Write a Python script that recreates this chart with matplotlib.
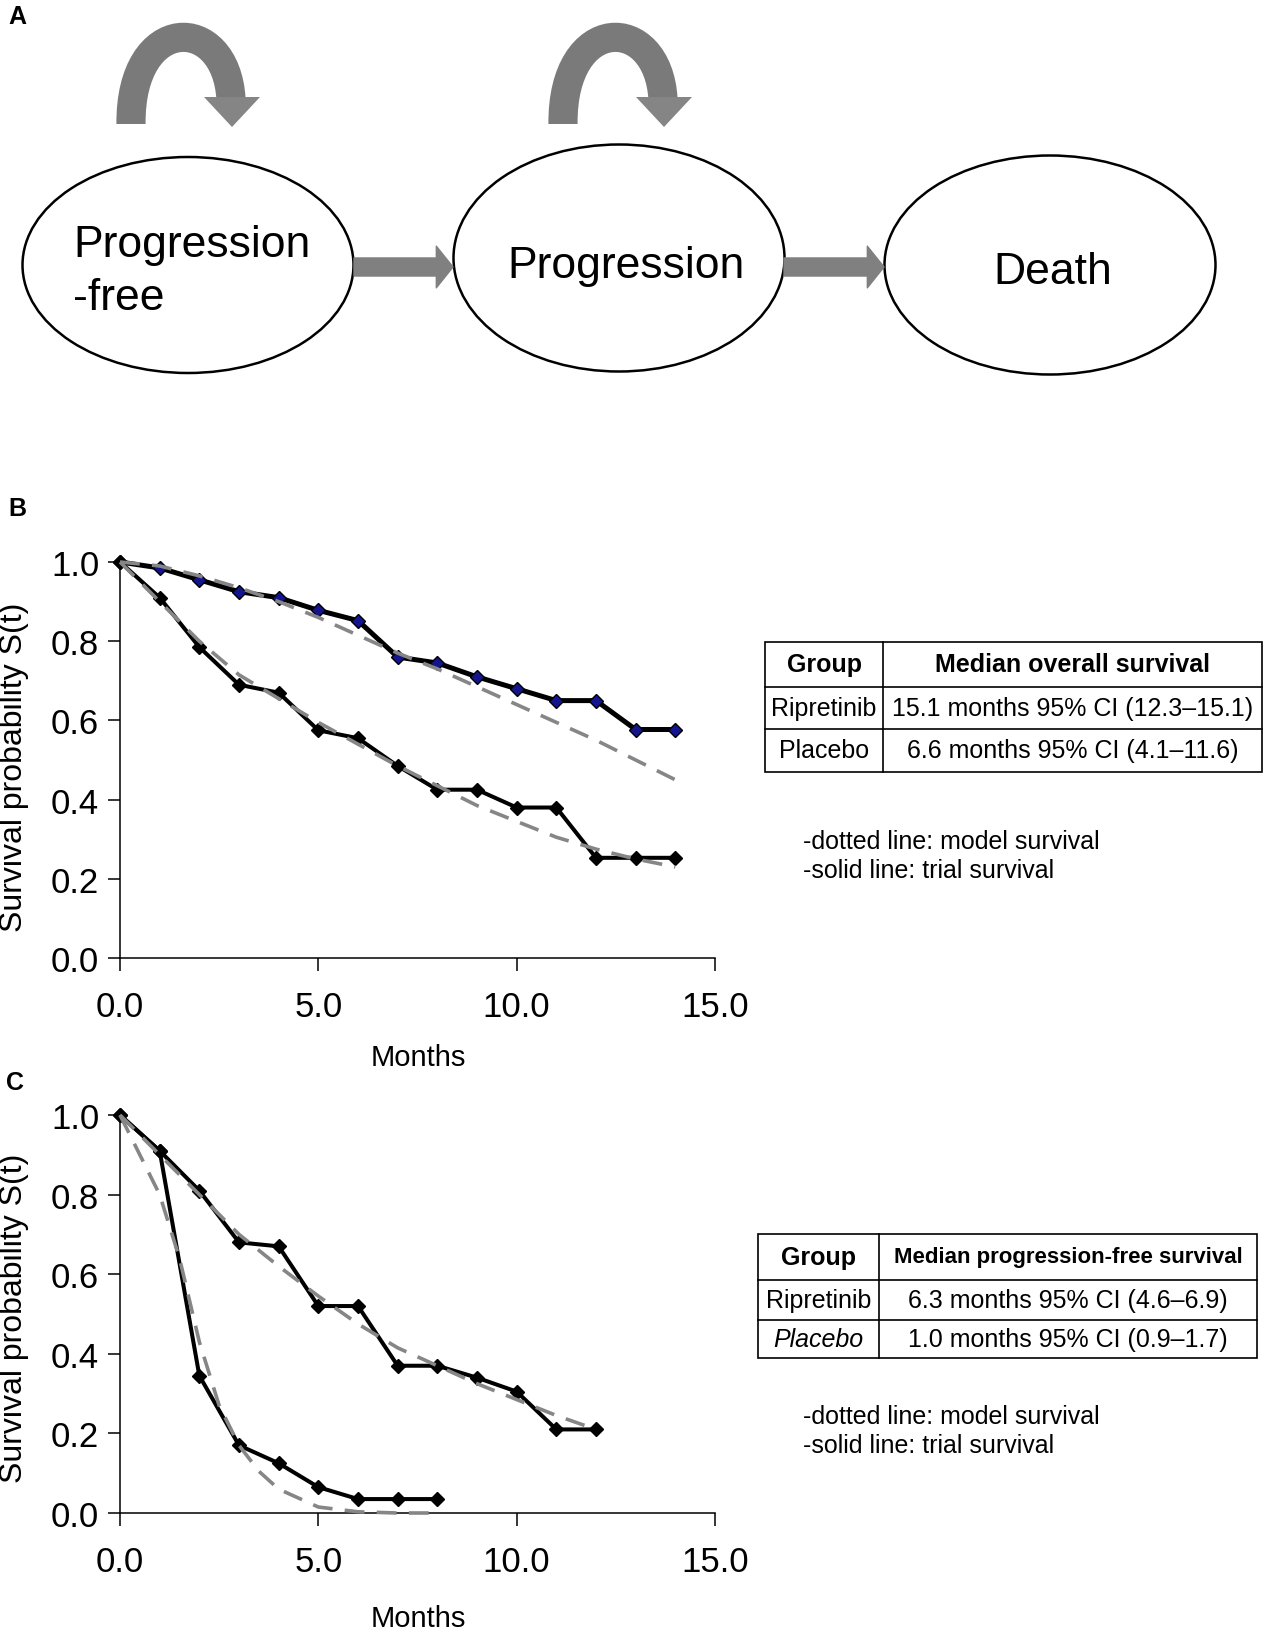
import matplotlib
matplotlib.use("Agg")
import matplotlib.pyplot as plt
from matplotlib.patches import Ellipse, FancyArrowPatch, Rectangle, PathPatch, Polygon
from matplotlib.path import Path

plt.rcParams['font.family'] = ['Liberation Sans', 'DejaVu Sans']

W, H = 1265, 1631

# --- panel A: model states ---
states = ["Progression\n-free", "Progression", "Death"]

# --- panel B: overall survival ---
os_months = [0, 1, 2, 3, 4, 5, 6, 7, 8, 9, 10, 11, 12, 13, 14]
os_rip_trial = [1.0, 0.985, 0.955, 0.925, 0.91, 0.878, 0.852, 0.76, 0.745, 0.71, 0.68, 0.65, 0.65, 0.577, 0.577]
os_pla_trial = [1.0, 0.91, 0.785, 0.69, 0.67, 0.575, 0.555, 0.485, 0.425, 0.425, 0.38, 0.38, 0.253, 0.253, 0.253]
os_rip_model = [1.0, 0.99, 0.965, 0.935, 0.90, 0.86, 0.815, 0.77, 0.73, 0.685, 0.64, 0.595, 0.55, 0.50, 0.45]
os_pla_model = [1.0, 0.90, 0.80, 0.715, 0.655, 0.595, 0.54, 0.485, 0.435, 0.385, 0.345, 0.305, 0.275, 0.25, 0.23]

# --- panel C: progression-free survival ---
pfs_rip_months = [0, 1, 2, 3, 4, 5, 6, 7, 8, 9, 10, 11, 12]
pfs_rip_trial = [1.0, 0.91, 0.81, 0.68, 0.67, 0.52, 0.52, 0.37, 0.37, 0.34, 0.305, 0.21, 0.21]
pfs_rip_model = [1.0, 0.90, 0.80, 0.70, 0.62, 0.545, 0.475, 0.415, 0.37, 0.325, 0.285, 0.245, 0.21]
pfs_pla_months = [0, 1, 2, 3, 4, 5, 6, 7, 8]
pfs_pla_trial = [1.0, 0.91, 0.345, 0.17, 0.125, 0.065, 0.035, 0.035, 0.035]
pfs_pla_model_months = [0, 0.5, 1, 1.5, 2, 2.5, 3, 3.5, 4, 5, 6, 7, 8]
pfs_pla_model = [1.0, 0.90, 0.80, 0.64, 0.43, 0.27, 0.17, 0.105, 0.06, 0.015, 0.003, 0.0, 0.0]

# --- tables ---
os_header = ["Group", "Median overall survival"]
os_rows = [["Ripretinib", "15.1 months 95% CI (12.3\u201315.1)"],
           ["Placebo", "6.6 months 95% CI (4.1\u201311.6)"]]
pfs_header = ["Group", "Median progression-free survival"]
pfs_rows = [["Ripretinib", "6.3 months 95% CI (4.6\u20136.9)"],
            ["Placebo", "1.0 months 95% CI (0.9\u20131.7)"]]
notes = ["-dotted line: model survival", "-solid line: trial survival"]

GRAY = '#868686'
ARROW = '#7a7a7a'

fig = plt.figure(figsize=(W / 100, H / 100), dpi=100)

# background canvas in pixel coordinates
bg = fig.add_axes([0, 0, 1, 1])
bg.set_xlim(0, W)
bg.set_ylim(H, 0)
bg.axis('off')


def px_axes(left, top, right, bottom):
    return fig.add_axes([left / W, 1 - bottom / H, (right - left) / W, (bottom - top) / H])


# panel letters
for lab, x, y in [("A", 8, 5), ("B", 8, 497), ("C", 6, 1071)]:
    bg.text(x, y, lab, fontsize=18, fontweight='bold', ha='left', va='top')

# ---- panel A diagram ----
ell_centers = [(188, 266), (619, 259), (1050, 266)]
ell_heights = [216, 227, 219]
for (cx, cy), eh in zip(ell_centers, ell_heights):
    bg.add_patch(Ellipse((cx, cy), 331, eh, fill=False, lw=1.8, ec='black'))

bg.text(73, 257, "Progression", fontsize=32, ha='left', va='baseline')
bg.text(73, 310, "-free", fontsize=32, ha='left', va='baseline')
bg.text(626, 278, states[1], fontsize=32, ha='center', va='baseline')
bg.text(1053, 284, states[2], fontsize=32, ha='center', va='baseline')

for x0, x1 in [(354, 453), (784, 884)]:
    bg.add_patch(FancyArrowPatch((x0, 268), (x1, 268),
                                 arrowstyle='simple,head_length=12,head_width=30,tail_width=13',
                                 mutation_scale=1, color='#808080', shrinkA=0, shrinkB=0))

# self-loop arrows: thick arch plus a triangular head
for dx in [0, 432]:
    arch = Path([(131 + dx, 125), (130 + dx, 14), (226 + dx, 14), (231 + dx, 100)],
                [Path.MOVETO, Path.CURVE4, Path.CURVE4, Path.CURVE4])
    bg.add_patch(PathPatch(arch, fill=False, lw=21, ec=ARROW, capstyle='butt'))
    bg.add_patch(Polygon([(204 + dx, 98), (260 + dx, 98), (232 + dx, 128)],
                         closed=True, fc='#858585', ec='none'))


# ---- survival plots ----
def style_axes(ax):
    ax.set_facecolor('none')
    ax.set_xlim(0, 15)
    ax.set_ylim(0, 1.0)
    ax.spines['top'].set_visible(False)
    ax.spines['right'].set_visible(False)
    for s in ['left', 'bottom']:
        ax.spines[s].set_linewidth(1.1)
    ax.set_xticks([0, 5, 10, 15])
    ax.set_xticklabels(['0.0', '5.0', '10.0', '15.0'])
    ax.set_yticks([0, 0.2, 0.4, 0.6, 0.8, 1.0])
    ax.set_yticklabels(['0.0', '0.2', '0.4', '0.6', '0.8', '1.0'])
    ax.tick_params(direction='out', length=9, width=1.1, labelsize=25)
    ax.tick_params(axis='x', pad=14)
    ax.tick_params(axis='y', pad=6)


def trial(ax, x, y, face='black', lw=2.9):
    ax.plot(x, y, color='black', lw=lw, marker='D', ms=7.5, mfc=face, mec='black',
            mew=1.0, clip_on=False, zorder=2)


def model(ax, x, y):
    ax.plot(x, y, color=GRAY, lw=2.6, dashes=(5.5, 3.4), clip_on=False, zorder=3)


ax_b = px_axes(120, 563, 715, 959)
style_axes(ax_b)
trial(ax_b, os_months, os_rip_trial, face='#14148c', lw=3.6)
trial(ax_b, os_months, os_pla_trial)
model(ax_b, os_months, os_rip_model)
model(ax_b, os_months, os_pla_model)

ax_c = px_axes(120, 1116, 715, 1514)
style_axes(ax_c)
trial(ax_c, pfs_rip_months, pfs_rip_trial)
trial(ax_c, pfs_pla_months, pfs_pla_trial)
model(ax_c, pfs_rip_months, pfs_rip_model)
model(ax_c, pfs_pla_model_months, pfs_pla_model)

# axis titles
for yc, yb in [(767, 1066), (1318, 1627)]:
    bg.text(14, yc, "Survival probability S(t)", fontsize=23, rotation=90, ha='center', va='center')
    bg.text(418, yb, "Months", fontsize=21, ha='center', va='baseline')


# ---- tables ----
def draw_table(left, mid, right, row_y, header, rows, head_size, italic_last=False):
    top, bottom = row_y[0], row_y[-1]
    bg.add_patch(Rectangle((left, top), right - left, bottom - top, fill=False, lw=1.2, ec='black'))
    for y in row_y[1:-1]:
        bg.plot([left, right], [y, y], color='black', lw=1.2)
    bg.plot([mid, mid], [top, bottom], color='black', lw=1.2)
    c1 = (left + mid) / 2
    c2 = (mid + right) / 2
    yc = [(row_y[i] + row_y[i + 1]) / 2 for i in range(len(row_y) - 1)]
    bg.text(c1, yc[0], header[0], fontsize=18, fontweight='bold', ha='center', va='center')
    bg.text(c2, yc[0], header[1], fontsize=head_size, fontweight='bold', ha='center', va='center')
    for i, (g, v) in enumerate(rows):
        st = 'italic' if (italic_last and i == len(rows) - 1) else 'normal'
        bg.text(c1, yc[i + 1], g, fontsize=18, style=st, ha='center', va='center')
        bg.text(c2, yc[i + 1], v, fontsize=18, ha='center', va='center')


draw_table(765, 883, 1262, [643, 688, 730, 773], os_header, os_rows, 18)
draw_table(758, 879, 1257, [1235, 1281, 1321, 1359], pfs_header, pfs_rows, 16, italic_last=True)

for y0 in [842, 1417]:
    for i, note in enumerate(notes):
        bg.text(803, y0 + 29 * i, note, fontsize=18, ha='left', va='center')

fig.savefig('out.png', dpi=100)
